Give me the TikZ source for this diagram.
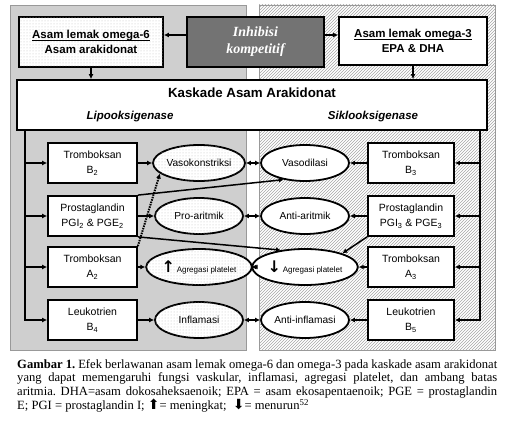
\documentclass[tikz,border=0pt]{standalone}
\usepackage{fontspec}
\setmainfont{Liberation Sans}
\newfontfamily\capfont{Liberation Serif}
\newfontfamily\symfont{DejaVu Sans}
\usetikzlibrary{shapes.geometric,patterns,arrows.meta}
\newcommand\ulword[1]{\setbox0\hbox{#1}\rlap{\rule[-1.6pt]{\wd0}{0.7pt}}\box0}

\begin{document}
\begin{tikzpicture}[x=1pt,y=-1pt,>={Latex[length=5pt,width=5pt]},
  box/.style={draw,line width=1.8pt,fill=white,minimum width=89pt,minimum height=40pt,inner sep=1pt,align=center,font=\fontsize{10.5}{15}\selectfont},
  oval/.style={ellipse,draw,line width=1.8pt,fill=white,minimum width=88pt,minimum height=36pt,inner sep=0pt,font=\fontsize{10.2}{12}\selectfont},
  speckle/.style={postaction={pattern=dots,pattern color=gray!50}},
  conn/.style={line width=1.5pt}]
  \useasboundingbox (0,0) rectangle (510,435);
  \draw[gray!80,fill=gray!38] (10,5) rectangle (246,350);
  \draw[gray!80,pattern=north east lines,pattern color=gray!70] (259,5) rectangle (495,350);

  \node[box,speckle,minimum width=144pt,minimum height=50pt,font=\fontsize{11.5}{14.5}\selectfont\bfseries] (om6) at (91,42) {\ulword{Asam lemak omega-6}\\Asam arakidonat};
  \node[draw,line width=1.8pt,fill=black!55,minimum width=137pt,minimum height=50pt,text=white,align=center,font=\fontsize{14}{17}\selectfont\capfont\bfseries\itshape] (inh) at (255.5,42) {Inhibisi\\kompetitif};
  \node[box,minimum width=148pt,minimum height=48pt,font=\fontsize{11.5}{14.5}\selectfont\bfseries] (om3) at (413,41) {\ulword{Asam lemak omega-3}\\EPA \& DHA};
  \node[draw,line width=1.8pt,fill=white,minimum width=470pt,minimum height=50pt] (casc) at (252,105) {};
  \node[font=\fontsize{13.3}{15}\selectfont\bfseries] (title) at (252,93) {Kaskade Asam Arakidonat};
  \node[font=\fontsize{11.5}{14}\selectfont\bfseries\itshape] (lox) at (130,117) {Lipooksigenase};
  \node[font=\fontsize{11.5}{14}\selectfont\bfseries\itshape] (cox) at (373,117) {Siklooksigenase};

  \node[box] (lb1) at (92.5,163) {Tromboksan\\B\textsubscript{2}};
  \node[box] (lb2) at (92.5,216) {Prostaglandin\\PGI\textsubscript{2} \& PGE\textsubscript{2}};
  \node[box] (lb3) at (92.5,267) {Tromboksan\\A\textsubscript{2}};
  \node[box] (lb4) at (92.5,320) {Leukotrien\\B\textsubscript{4}};
  \node[box,minimum width=86pt] (rb1) at (411,163) {Tromboksan\\B\textsubscript{3}};
  \node[box,minimum width=86pt] (rb2) at (411,216) {Prostaglandin\\PGI\textsubscript{3} \& PGE\textsubscript{3}};
  \node[box,minimum width=86pt] (rb3) at (411,267) {Tromboksan\\A\textsubscript{3}};
  \node[box,minimum width=86pt] (rb4) at (411,320) {Leukotrien\\B\textsubscript{5}};

  \node[oval,speckle] (le1) at (199,163) {Vasokonstriksi};
  \node[oval,speckle] (le2) at (199,216) {Pro-aritmik};
  \node[oval,speckle] (le3) at (199,267) {{\symfont\bfseries\fontsize{16}{16}\selectfont ↑}\,{\fontsize{8}{10}\selectfont Agregasi platelet}};
  \node[oval,speckle] (le4) at (199,320) {Inflamasi};
  \node[oval] (re1) at (305,163) {Vasodilasi};
  \node[oval] (re2) at (305,216) {Anti-aritmik};
  \node[oval] (re3) at (305,267) {{\symfont\bfseries\fontsize{16}{16}\selectfont ↓}\,{\fontsize{8}{10}\selectfont Agregasi platelet}};
  \node[oval] (re4) at (305,320) {Anti-inflamasi};

  % omega boxes
  \draw[conn,->] ([yshift=7pt]inh.west) -- ([yshift=7pt]om6.east);
  \draw[conn,->] ([yshift=7pt]inh.east) -- ([yshift=6pt]om3.west);
  \draw[conn,->] (om6.south) -- (om6.south |- casc.north);
  \draw[conn,->] (om3.south) -- (om3.south |- casc.north);

  % trunks and rows
  \coordinate (ltrunk) at (25,130);
  \coordinate (rtrunk) at (480,130);
  \draw[conn,->] (ltrunk) |- (lb4.west);
  \draw[conn,->] (rtrunk) |- (rb4.east);
  \foreach \n in {1,2,3} {
    \draw[conn,->] (ltrunk |- lb\n.west) -- (lb\n.west);
    \draw[conn,->] (rtrunk |- rb\n.east) -- (rb\n.east);
  }
  \foreach \n in {1,...,4} {
    \draw[conn,->] (lb\n.east) -- (le\n.west);
    \draw[conn,->] (rb\n.west) -- (re\n.east);
    \draw[conn,<->] (le\n.east) -- (re\n.west);
  }

  % cross links
  \draw[conn,->] (lb2.north east) -- (re1.218);
  \draw[conn,->] (lb2.south east) -- (re3.145);
  \draw[conn,->] (rb2.south west) -- (re3.20);
  \draw[conn,->,densely dotted,line width=2pt] (lb3.north east) -- (le1.195);

  \node[anchor=north west,inner sep=0pt,text width=480pt,align=justify,font=\capfont\fontsize{12.6}{13.8}\selectfont\frenchspacing] (caption) at (17,359) {\textbf{Gambar 1.} Efek berlawanan asam lemak omega-6 dan omega-3 pada kaskade asam arakidonat\linebreak yang dapat memengaruhi fungsi vaskular, inflamasi, agregasi platelet, dan ambang batas\linebreak aritmia. DHA=asam dokosaheksaenoik; EPA = asam ekosapentaenoik; PGE = prostaglandin\linebreak E; PGI = prostaglandin I; {\symfont\fontsize{14}{14}\selectfont ⬆}= meningkat; \ {\symfont\fontsize{14}{14}\selectfont ⬇}= menurun\textsuperscript{52}};
\end{tikzpicture}
\end{document}
